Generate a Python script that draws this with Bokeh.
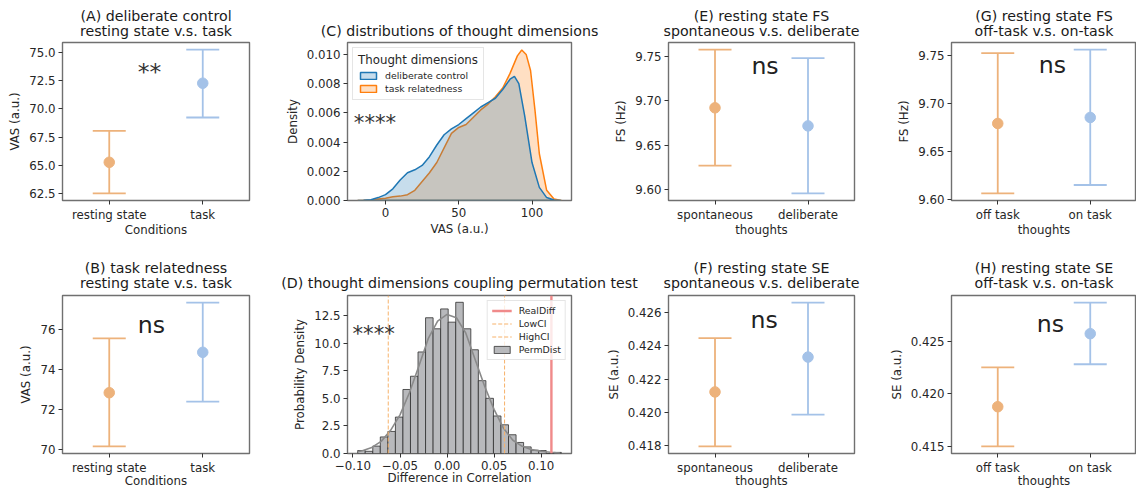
import numpy as np
from bokeh.plotting import figure
from bokeh.layouts import column, row
from bokeh.models import Range1d, FixedTicker, PrintfTickFormatter, Legend, LegendItem
from bokeh.core.properties import value
from bokeh.embed import file_html
from bokeh.resources import INLINE

FONT = "DejaVu Sans"
TXT = "#262626"

# ---------------- data ----------------
a_cats = ["resting state", "task"]
a_mean = [65.26, 72.29]
a_lo = [62.50, 69.24]
a_hi = [68.06, 75.27]
a_yticks = [62.5, 65.0, 67.5, 70.0, 72.5, 75.0]

b_cats = ["resting state", "task"]
b_mean = [72.83, 74.85]
b_lo = [70.15, 72.38]
b_hi = [75.55, 77.33]
b_yticks = [70, 72, 74, 76]

e_cats = ["spontaneous", "deliberate"]
e_mean = [9.6920, 9.6716]
e_lo = [9.6268, 9.5955]
e_hi = [9.7576, 9.7480]
e_yticks = [9.60, 9.65, 9.70, 9.75]

f_cats = ["spontaneous", "deliberate"]
f_mean = [0.42124, 0.42333]
f_lo = [0.41798, 0.41988]
f_hi = [0.42446, 0.42659]
f_yticks = [0.418, 0.420, 0.422, 0.424, 0.426]

g_cats = ["off task", "on task"]
g_mean = [9.6794, 9.6857]
g_lo = [9.6063, 9.6150]
g_hi = [9.7531, 9.7566]
g_yticks = [9.60, 9.65, 9.70, 9.75]

h_cats = ["off task", "on task"]
h_mean = [0.41877, 0.42572]
h_lo = [0.41500, 0.42281]
h_hi = [0.42252, 0.42867]
h_yticks = [0.415, 0.420, 0.425]

# (C) KDE of thought dimensions
kde_dc_x = [-19, -15, -10, -5, 0, 5, 10, 15, 20, 25, 30, 35, 40, 45, 50, 55, 60, 65, 70, 75,
            80, 85, 88, 91, 95, 100, 105, 110, 115, 120]
kde_dc_y = [0.0, 0.00002, 0.00006, 0.0002, 0.0004, 0.0008, 0.0014, 0.0019, 0.0021, 0.0024,
            0.0030, 0.0038, 0.0045, 0.0049, 0.0052, 0.0056, 0.0060, 0.0064, 0.0067, 0.0070,
            0.0076, 0.0083, 0.0085, 0.0080, 0.0058, 0.0026, 0.0009, 0.0002, 0.00003, 0.0]
kde_tr_x = [-19, -15, -10, -5, 0, 5, 10, 15, 20, 25, 30, 35, 40, 45, 50, 55, 60, 65, 70, 75,
            80, 85, 90, 93, 96, 99, 102, 105, 110, 115, 120]
kde_tr_y = [0.0, 0.00001, 0.00004, 0.0001, 0.00015, 0.00025, 0.0003, 0.0004, 0.0007, 0.0013,
            0.0019, 0.0026, 0.0036, 0.0046, 0.0050, 0.0052, 0.0057, 0.0062, 0.0066, 0.0071,
            0.0077, 0.0087, 0.0099, 0.0103, 0.0100, 0.0089, 0.0062, 0.0032, 0.0007, 0.0001, 0.0]
c_xticks = [0, 50, 100]
c_yticks = [0.000, 0.002, 0.004, 0.006, 0.008, 0.010]

# (D) permutation distribution
perm_bin_start = -0.0950
perm_bin_width = 0.00802
perm_density = [0.27, 0.20, 0.67, 1.50, 2.00, 3.30, 5.80, 7.00, 9.20, 12.30, 11.30, 13.10,
                11.90, 13.70, 11.30, 9.40, 6.60, 5.00, 3.40, 2.60, 1.70, 1.00, 0.60, 0.30,
                0.27, 0.00, 0.10]
perm_kde_x = [-0.095, -0.09, -0.08, -0.07, -0.06, -0.05, -0.04, -0.03, -0.02, -0.01, 0.0,
              0.01, 0.02, 0.03, 0.04, 0.05, 0.06, 0.07, 0.08, 0.09, 0.10, 0.11, 0.12]
perm_kde_y = [0.15, 0.25, 0.55, 1.10, 2.10, 3.50, 5.50, 7.90, 10.40, 12.00, 12.60,
              12.30, 10.90, 8.50, 6.10, 4.00, 2.30, 1.20, 0.65, 0.35, 0.20, 0.12, 0.05]
real_diff = 0.1110
low_ci = -0.0625
high_ci = 0.0612
d_xticks = [-0.10, -0.05, 0.0, 0.05, 0.10]
d_xlabels = ["\u22120.10", "\u22120.05", "0.00", "0.05", "0.10"]
d_yticks = [0.0, 2.5, 5.0, 7.5, 10.0, 12.5]

titles_row1 = [["(A) deliberate control", "resting state v.s. task"],
               ["(C) distributions of thought dimensions"],
               ["(E) resting state FS", "spontaneous v.s. deliberate"],
               ["(G) resting state FS", "off-task v.s. on-task"]]
titles_row2 = [["(B) task relatedness", "resting state v.s. task"],
               ["(D) thought dimensions coupling permutation test"],
               ["(F) resting state SE", "spontaneous v.s. deliberate"],
               ["(H) resting state SE", "off-task v.s. on-task"]]

# ---------------- layout / style ----------------
COL_W = [270, 330, 270, 266]
FRAME_L = [62, 77, 68, 81]
FRAME_R = [21, 29, 16, 0]
PT_COLORS = ["#edb27b", "#a4c2e8"]


def frame_centers():
    out, x = [], 0
    for w, l, r in zip(COL_W, FRAME_L, FRAME_R):
        out.append(x + l + (w - l - r) / 2.0)
        x += w
    return out


def style(p, xlabel_standoff):
    p.outline_line_color = "#707070"
    p.outline_line_width = 1.4
    p.grid.visible = False
    p.background_fill_color = "white"
    p.border_fill_color = "white"
    for ax in p.axis:
        ax.axis_line_color = None
        ax.major_tick_line_color = "#333333"
        ax.major_tick_out = 4
        ax.major_tick_in = 0
        ax.minor_tick_line_color = None
        ax.major_label_text_font = FONT
        ax.major_label_text_font_size = "11.8px"
        ax.major_label_text_color = TXT
        ax.major_label_text_line_height = 1.0
        ax.major_label_standoff = 3
        ax.axis_label_text_font = FONT
        ax.axis_label_text_font_size = "11.8px"
        ax.axis_label_text_font_style = "normal"
        ax.axis_label_text_color = TXT
        ax.axis_label_text_line_height = 1.0
    p.xaxis.axis_label_standoff = xlabel_standoff
    p.yaxis.axis_label_standoff = 4


def strip(h, lines_y, titles):
    s = figure(width=sum(COL_W), height=h, x_range=Range1d(0, sum(COL_W)), y_range=Range1d(h, 0),
               toolbar_location=None, output_backend="svg", min_border=0,
               x_axis_location=None, y_axis_location=None, outline_line_color=None, title=None)
    s.grid.visible = False
    xs, ys, ts = [], [], []
    for cx, lines in zip(frame_centers(), titles):
        offs = lines_y[-len(lines):]
        for yy, t in zip(offs, lines):
            xs.append(cx); ys.append(yy); ts.append(t)
    s.text(x=xs, y=ys, text=ts, text_align="center", text_baseline="middle",
           text_font=value(FONT), text_font_size="14.2px", text_color="#1a1a1a")
    return s


def margins(lo, hi):
    span = hi - lo
    return lo - 0.05 * span, hi + 0.05 * span


def point_panel(col, ph, bottom, xstand, cats, mean, lo, hi, yticks, yfmt, ylabel, xlabel,
                note, note_x, note_y, note_size, note_color):
    y0, y1 = margins(min(lo), max(hi))
    p = figure(width=COL_W[col], height=ph, min_border_left=FRAME_L[col],
               min_border_right=FRAME_R[col], min_border_top=2, min_border_bottom=bottom,
               x_range=Range1d(-0.5, len(cats) - 0.5), y_range=Range1d(y0, y1),
               toolbar_location=None, output_backend="svg", title=None)
    xs = list(range(len(cats)))
    p.segment(x0=xs, y0=lo, x1=xs, y1=hi, line_color=PT_COLORS, line_width=1.8)
    p.scatter(x=xs + xs, y=list(lo) + list(hi), marker="dash", size=33,
              line_color=PT_COLORS + PT_COLORS, line_width=1.8)
    p.scatter(x=xs, y=mean, size=10.5, fill_color=PT_COLORS, line_color=PT_COLORS)
    p.text(x=[note_x], y=[note_y], text=[note], text_align="center", text_baseline="alphabetic",
           text_font=value(FONT), text_font_size=note_size, text_color=note_color)
    p.xaxis.ticker = FixedTicker(ticks=xs)
    p.xaxis.major_label_overrides = {i: c for i, c in enumerate(cats)}
    p.yaxis.ticker = FixedTicker(ticks=yticks)
    p.yaxis.formatter = PrintfTickFormatter(format=yfmt)
    p.xaxis.axis_label = xlabel
    p.yaxis.axis_label = ylabel
    style(p, xstand)
    return p


R1H, R1B = 205, 45
R2H, R2B = 197, 37

pA = point_panel(0, R1H, R1B, -2, a_cats, a_mean, a_lo, a_hi, a_yticks, "%.1f", "VAS (a.u.)",
                 "Conditions", "**", 0.43, 73.25, "23.6px", "#333333")
pB = point_panel(0, R2H, R2B, -4, b_cats, b_mean, b_lo, b_hi, b_yticks, "%d", "VAS (a.u.)",
                 "Conditions", "ns", 0.45, 76.21, "23.6px", "#222222")
pE = point_panel(2, R1H, R1B, -2, e_cats, e_mean, e_lo, e_hi, e_yticks, "%.2f", "FS (Hz)",
                 "thoughts", "ns", 0.538, 9.7393, "23.6px", "#222222")
pF = point_panel(2, R2H, R2B, -4, f_cats, f_mean, f_lo, f_hi, f_yticks, "%.3f", "SE (a.u.)",
                 "thoughts", "ns", 0.529, 0.425523, "23.6px", "#222222")
pG = point_panel(3, R1H, R1B, -2, g_cats, g_mean, g_lo, g_hi, g_yticks, "%.2f", "FS (Hz)",
                 "thoughts", "ns", 0.59, 9.7407, "23.6px", "#222222")
pH = point_panel(3, R2H, R2B, -4, h_cats, h_mean, h_lo, h_hi, h_yticks, "%.3f", "SE (a.u.)",
                 "thoughts", "ns", 0.569, 0.4266, "23.6px", "#222222")

# ---- (C) KDE panel ----
cx0, cx1 = margins(min(kde_dc_x + kde_tr_x), max(kde_dc_x + kde_tr_x))
cy1 = max(kde_dc_y + kde_tr_y) * 1.05
pC = figure(width=COL_W[1], height=R1H, min_border_left=FRAME_L[1], min_border_right=FRAME_R[1],
            min_border_top=2, min_border_bottom=R1B, x_range=Range1d(cx0, cx1),
            y_range=Range1d(0, cy1), toolbar_location=None, output_backend="svg", title=None)
r_tr = pC.patch(x=kde_tr_x, y=kde_tr_y, fill_color="#ff7f0e", fill_alpha=0.25,
                line_color="#ff7f0e", line_width=1.5)
r_dc = pC.patch(x=kde_dc_x, y=kde_dc_y, fill_color="#1f77b4", fill_alpha=0.25,
                line_color="#1f77b4", line_width=1.5)
pC.text(x=[-7.2], y=[0.00537], text=["****"], text_align="center", text_baseline="alphabetic",
        text_font=value(FONT), text_font_size="21.2px", text_color="#333333")
pC.xaxis.ticker = FixedTicker(ticks=c_xticks)
pC.xaxis.formatter = PrintfTickFormatter(format="%d")
pC.yaxis.ticker = FixedTicker(ticks=c_yticks)
pC.yaxis.formatter = PrintfTickFormatter(format="%.3f")
pC.xaxis.axis_label = "VAS (a.u.)"
pC.yaxis.axis_label = "Density"
style(pC, 2)
legC = Legend(items=[LegendItem(label="deliberate control", renderers=[r_dc]),
                     LegendItem(label="task relatedness", renderers=[r_tr])],
              location="top_left", title="Thought dimensions")
legC.title_text_font = FONT
legC.title_text_font_size = "11.8px"
legC.title_text_font_style = "normal"
legC.title_text_color = TXT
legC.title_standoff = 3
legC.label_text_font = FONT
legC.label_text_font_size = "9.4px"
legC.label_text_color = TXT
legC.glyph_width = 20
legC.glyph_height = 9
legC.label_height = 11
legC.label_standoff = 7
legC.spacing = 2
legC.padding = 5
legC.margin = 5
legC.border_line_color = "#cccccc"
legC.background_fill_alpha = 0.8
pC.add_layout(legC)

# ---- (D) permutation histogram ----
edges = perm_bin_start + perm_bin_width * np.arange(len(perm_density) + 1)
dx0, dx1 = margins(edges[0], edges[-1])
dy1 = max(perm_density) * 1.045
pD = figure(width=COL_W[1], height=R2H, min_border_left=FRAME_L[1], min_border_right=FRAME_R[1],
            min_border_top=2, min_border_bottom=R2B, x_range=Range1d(dx0, dx1),
            y_range=Range1d(0, dy1), toolbar_location=None, output_backend="svg", title=None)
r_hist = pD.quad(left=edges[:-1], right=edges[1:], bottom=0, top=perm_density,
                 fill_color="#b8b9bc", line_color="#2f2f2f", line_width=0.8)
pD.line(x=perm_kde_x, y=perm_kde_y, line_color="#8a8a8a", line_width=1.6)
r_low = pD.segment(x0=[low_ci], y0=[0], x1=[low_ci], y1=[dy1], line_color="#f7b26a",
                   line_width=1.0, line_dash="4 2")
r_high = pD.segment(x0=[high_ci], y0=[0], x1=[high_ci], y1=[dy1], line_color="#f7b26a",
                    line_width=1.0, line_dash="4 2")
r_real = pD.segment(x0=[real_diff], y0=[0], x1=[real_diff], y1=[dy1], line_color="#f08a8a",
                    line_width=2.4)
pD.text(x=[-0.078], y=[10.9], text=["****"], text_align="center", text_baseline="alphabetic",
        text_font=value(FONT), text_font_size="21.2px", text_color="#333333")
pD.xaxis.ticker = FixedTicker(ticks=d_xticks)
pD.xaxis.major_label_overrides = {t: l for t, l in zip(d_xticks, d_xlabels)}
pD.yaxis.ticker = FixedTicker(ticks=d_yticks)
pD.yaxis.formatter = PrintfTickFormatter(format="%.1f")
pD.xaxis.axis_label = "Difference in Correlation"
pD.yaxis.axis_label = "Probability Density"
style(pD, -2)
legD = Legend(items=[LegendItem(label="RealDiff", renderers=[r_real]),
                     LegendItem(label="LowCI", renderers=[r_low]),
                     LegendItem(label="HighCI", renderers=[r_high]),
                     LegendItem(label="PermDist", renderers=[r_hist])],
              location="top_right")
legD.label_text_font = FONT
legD.label_text_font_size = "9.4px"
legD.label_text_color = TXT
legD.glyph_width = 20
legD.glyph_height = 9
legD.label_height = 11
legD.label_standoff = 7
legD.spacing = 2
legD.padding = 4
legD.margin = 5
legD.border_line_color = "#cccccc"
legD.background_fill_alpha = 0.8
pD.add_layout(legD)

strip1 = strip(40, [15.0, 30.5], titles_row1)
strip2 = strip(48, [22.7, 37.7], titles_row2)

layout = column(strip1, row(pA, pC, pE, pG), strip2, row(pB, pD, pF, pH))

open("out.html", "w").write(file_html(layout, INLINE))
